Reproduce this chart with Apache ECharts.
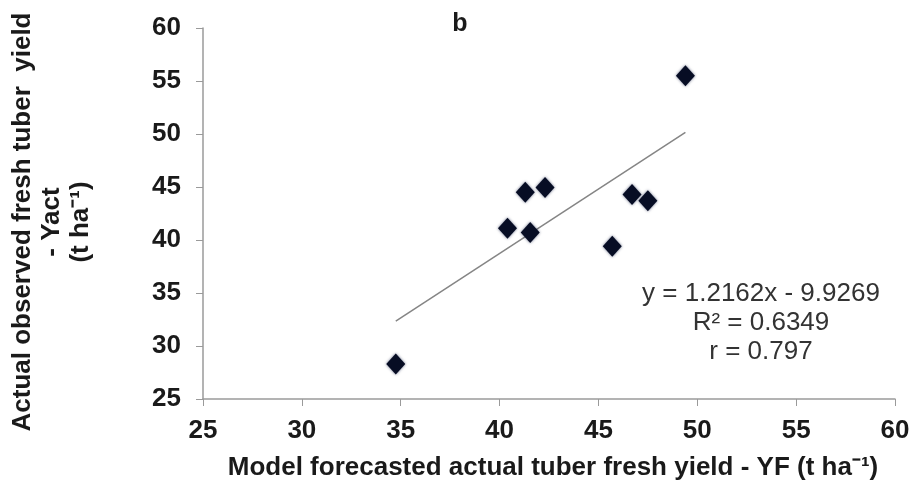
<!DOCTYPE html>
<html>
<head>
<meta charset="utf-8">
<script src="https://cdn.jsdelivr.net/npm/echarts@6/dist/echarts.min.js"></script>
<style>html,body{margin:0;padding:0;background:#fff}#c{width:914px;height:486px}</style>
</head>
<body>
<div id="c"></div>
<script>
var forecastYF = [34.75, 40.4, 41.3, 41.55, 42.3, 45.7, 46.7, 47.5, 49.4];
var observedYact = [28.3, 41.1, 44.5, 40.7, 44.95, 39.4, 44.3, 43.7, 55.5];
var trendSlope = 1.2162;
var trendIntercept = -9.9269;
var equationLines = ['y = 1.2162x - 9.9269', 'R² = 0.6349', 'r = 0.797'];
var panelLabel = 'b';
var xTitle = 'Model forecasted actual tuber fresh yield - YF (t ha⁻¹)';
var yTitleLines = ['Actual observed fresh tuber  yield', '- Yact', '(t ha⁻¹)'];

var pts = forecastYF.map(function (x, i) { return [x, observedYact[i]]; });
var xMin = Math.min.apply(null, forecastYF), xMax = Math.max.apply(null, forecastYF);
var trend = [[xMin, trendSlope * xMin + trendIntercept], [xMax, trendSlope * xMax + trendIntercept]];

var chart = echarts.init(document.getElementById('c'), null, {renderer: 'canvas'});
var axisFont = {fontFamily: 'Liberation Sans', fontWeight: 'bold', fontSize: 26, color: '#1a1a1a'};
var axisLineStyle = {color: '#9a9a9a', width: 1.5};
chart.setOption({
  animation: false,
  backgroundColor: '#fff',
  grid: {left: 203, right: 19, top: 28, bottom: 84},
  xAxis: {
    type: 'value', min: 25, max: 60, interval: 5,
    axisLine: {show: true, lineStyle: axisLineStyle},
    axisTick: {show: true, length: 7, lineStyle: {color: '#9a9a9a'}},
    splitLine: {show: false},
    axisLabel: Object.assign({margin: 19}, axisFont),
    name: xTitle, nameLocation: 'middle', nameGap: 56,
    nameTextStyle: {fontFamily: 'Liberation Sans', fontWeight: 'bold', fontSize: 26, color: '#1a1a1a', padding: [0, 0, 0, 8]}
  },
  yAxis: {
    type: 'value', min: 25, max: 60, interval: 5,
    axisLine: {show: true, lineStyle: axisLineStyle},
    axisTick: {show: true, length: 7, lineStyle: {color: '#9a9a9a'}},
    splitLine: {show: false},
    axisLabel: Object.assign({margin: 22}, axisFont)
  },
  series: [
    {
      type: 'line', data: trend, symbol: 'none', silent: true,
      lineStyle: {color: '#858585', width: 1.5}, z: 1
    },
    {
      type: 'scatter', data: pts, symbol: 'diamond', symbolSize: [19, 21],
      itemStyle: {color: '#070d24', opacity: 1, shadowBlur: 3, shadowColor: 'rgba(10,20,60,0.6)'}, z: 2
    }
  ],
  graphic: [
    {type: 'text', x: 52, y: 222, rotation: Math.PI / 2,
      style: {text: yTitleLines.join('\n'), textAlign: 'center', textVerticalAlign: 'middle', fontFamily: 'Liberation Sans', fontWeight: 'bold', fontSize: 26, lineHeight: 29, fill: '#1a1a1a'}},
    {type: 'text', x: 460, y: 24, style: {text: panelLabel, textAlign: 'center', textVerticalAlign: 'middle', fontFamily: 'Liberation Sans', fontWeight: 'bold', fontSize: 25, fill: '#1a1a1a'}},
    {type: 'text', x: 761, y: 323, style: {text: equationLines.join('\n'), textAlign: 'center', textVerticalAlign: 'middle', fontFamily: 'Liberation Sans', fontSize: 26, lineHeight: 29, fill: '#333'}}
  ]
});
</script>
</body>
</html>
